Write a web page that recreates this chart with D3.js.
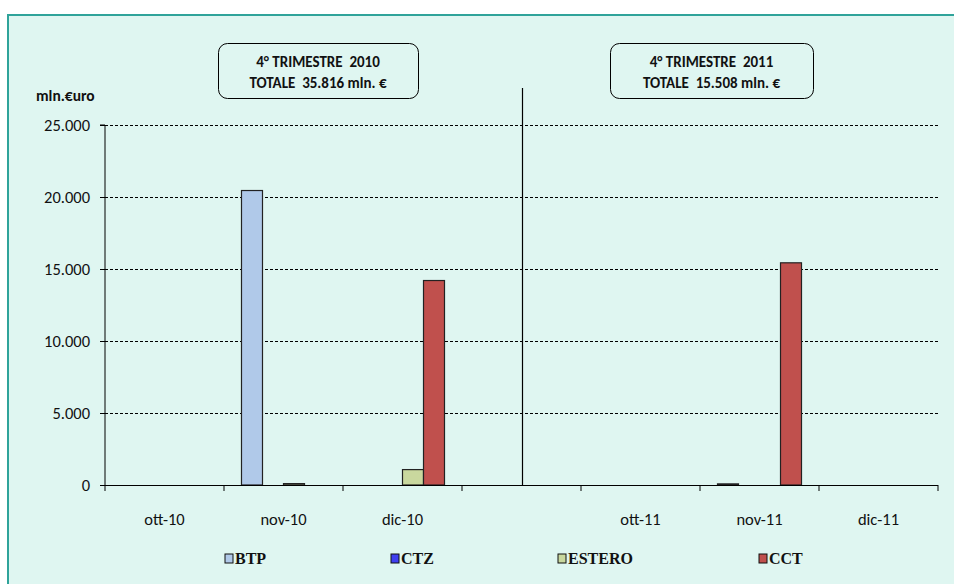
<!DOCTYPE html>
<html>
<head>
<meta charset="utf-8">
<script src="https://cdn.jsdelivr.net/npm/d3@7"></script>
<style>
  html, body { margin: 0; padding: 0; background: #ffffff; overflow: hidden; }
  svg { display: block; }
</style>
</head>
<body>
<script>
// ---- data ----
const categories = ["ott-10", "nov-10", "dic-10", "", "ott-11", "nov-11", "dic-11"];
const seriesNames = ["BTP", "CTZ", "ESTERO", "CCT"];
const seriesColors = ["#b0c9e9", "#3f3ff0", "#c9d89e", "#c0504d"];
const BTP    = [0, 20450, 0, 0, 0, 78, 0];
const CTZ    = [0, 0, 0, 0, 0, 0, 0];
const ESTERO = [0, 96, 1070, 0, 0, 0, 0];
const CCT    = [0, 0, 14200, 0, 0, 15430, 0];
const yTicks = [0, 5000, 10000, 15000, 20000, 25000];
const boxTexts = [
  ["4° TRIMESTRE  2010", "TOTALE  35.816 mln. €"],
  ["4° TRIMESTRE  2011", "TOTALE  15.508 mln. €"]
];
const yUnit = "mln.€uro";

const seriesValues = [BTP, CTZ, ESTERO, CCT];

const W = 954, H = 584;
const font = "Carlito, Lato, 'Open Sans', sans-serif";
const bg = "#dff6f1";

const svg = d3.select("body").append("svg").attr("width", W).attr("height", H);

// outer frame: fill, then only top and left edges (others fall outside the picture)
svg.append("rect").attr("x", 8).attr("y", 15).attr("width", W - 8).attr("height", H - 15)
  .attr("fill", bg);
svg.append("path").attr("d", `M8,${H}V15H${W}`)
  .attr("fill", "none").attr("stroke", "#2fa39a").attr("stroke-width", 2);

const plot = { left: 105, right: 938, top: 125, bottom: 485 };

const x = d3.scaleBand().domain(d3.range(categories.length))
  .range([plot.left, plot.right]).paddingInner(0).paddingOuter(0);
const xs = d3.scaleBand().domain(seriesNames).range([0, x.bandwidth()])
  .paddingInner(0).paddingOuter(0.833);
const y = d3.scaleLinear().domain([0, 25000]).range([plot.bottom, plot.top]);

// gridlines
svg.append("g").selectAll("line").data(yTicks.filter(d => d > 0)).join("line")
  .attr("x1", plot.left).attr("x2", plot.right)
  .attr("y1", d => Math.round(y(d)) + 0.5).attr("y2", d => Math.round(y(d)) + 0.5)
  .attr("stroke", "#000").attr("stroke-width", 1).attr("stroke-dasharray", "3,2");

// bars
const barData = [];
seriesNames.forEach((s, si) => {
  seriesValues[si].forEach((v, ci) => {
    if (v > 0) barData.push({ s, si, ci, v });
  });
});
svg.append("g").selectAll("rect").data(barData).join("rect")
  .attr("x", d => x(d.ci) + xs(d.s))
  .attr("y", d => y(d.v))
  .attr("width", xs.bandwidth())
  .attr("height", d => Math.max(1, y(0) - y(d.v)))
  .attr("fill", d => seriesColors[d.si])
  .attr("stroke", "#222").attr("stroke-width", 1.2);

// y axis
const yAxis = d3.axisLeft(y).tickValues(yTicks).tickSize(5).tickPadding(10)
  .tickFormat(d => d3.format(",")(d).replace(/,/g, "."));
const gy = svg.append("g").attr("transform", `translate(${plot.left},0)`).call(yAxis);
gy.select(".domain").attr("stroke", "#000").attr("d", `M-5,${plot.top}H0V${plot.bottom}`);
gy.selectAll(".tick line").attr("stroke", "#000");
gy.selectAll("text").attr("font-family", font).attr("font-size", 16.5).attr("fill", "#111");

// x axis
const gx = svg.append("g");
gx.append("line").attr("x1", plot.left).attr("x2", plot.right)
  .attr("y1", plot.bottom + 0.5).attr("y2", plot.bottom + 0.5).attr("stroke", "#000").attr("stroke-width", 1.2);
const boundaries = d3.range(categories.length + 1).map(i => i < categories.length ? x(i) : plot.right);
gx.selectAll("line.tk").data(boundaries).join("line").attr("class", "tk")
  .attr("x1", d => d).attr("x2", d => d)
  .attr("y1", plot.bottom).attr("y2", plot.bottom + 6).attr("stroke", "#000");
gx.selectAll("text").data(categories).join("text")
  .attr("x", (d, i) => x(i) + x.bandwidth() / 2)
  .attr("y", plot.bottom + 40)
  .attr("text-anchor", "middle")
  .attr("font-family", font).attr("font-size", 16.5).attr("fill", "#111")
  .text(d => d);

// divider line at blank category
const blankIdx = categories.indexOf("");
svg.append("line")
  .attr("x1", x(blankIdx) + x.bandwidth() / 2 + 1).attr("x2", x(blankIdx) + x.bandwidth() / 2 + 1)
  .attr("y1", 88).attr("y2", plot.bottom)
  .attr("stroke", "#000").attr("stroke-width", 1.2);

// y unit
svg.append("text").attr("x", 36).attr("y", 101)
  .attr("font-family", font).attr("font-size", 15.5).attr("font-weight", "bold").attr("fill", "#111")
  .text(yUnit);

// title boxes
const boxes = [{ x: 218, y: 43, w: 200, h: 55 }, { x: 610, y: 43, w: 203, h: 55 }];
boxes.forEach((b, i) => {
  svg.append("rect").attr("x", b.x + 0.5).attr("y", b.y + 0.5).attr("width", b.w).attr("height", b.h)
    .attr("rx", 9).attr("ry", 9).attr("fill", bg).attr("stroke", "#000").attr("stroke-width", 1);
  boxTexts[i].forEach((t, j) => {
    svg.append("text").attr("x", b.x + b.w / 2).attr("y", b.y + 24 + j * 21)
      .attr("text-anchor", "middle")
      .attr("font-family", font).attr("font-size", 15).attr("font-weight", "bold").attr("fill", "#111")
      .style("white-space", "pre")
      .text(t);
  });
});

// legend
const legendX = [225, 391, 558, 759];
const lg = svg.append("g");
seriesNames.forEach((s, i) => {
  lg.append("rect").attr("x", legendX[i]).attr("y", 554).attr("width", 8).attr("height", 9)
    .attr("fill", seriesColors[i]).attr("stroke", "#111").attr("stroke-width", 1);
  lg.append("text").attr("x", legendX[i] + 10).attr("y", 564)
    .attr("font-family", "'Liberation Serif', 'Times New Roman', serif")
    .attr("font-size", 16).attr("font-weight", "bold").attr("fill", "#111")
    .text(s);
});
</script>
</body>
</html>
